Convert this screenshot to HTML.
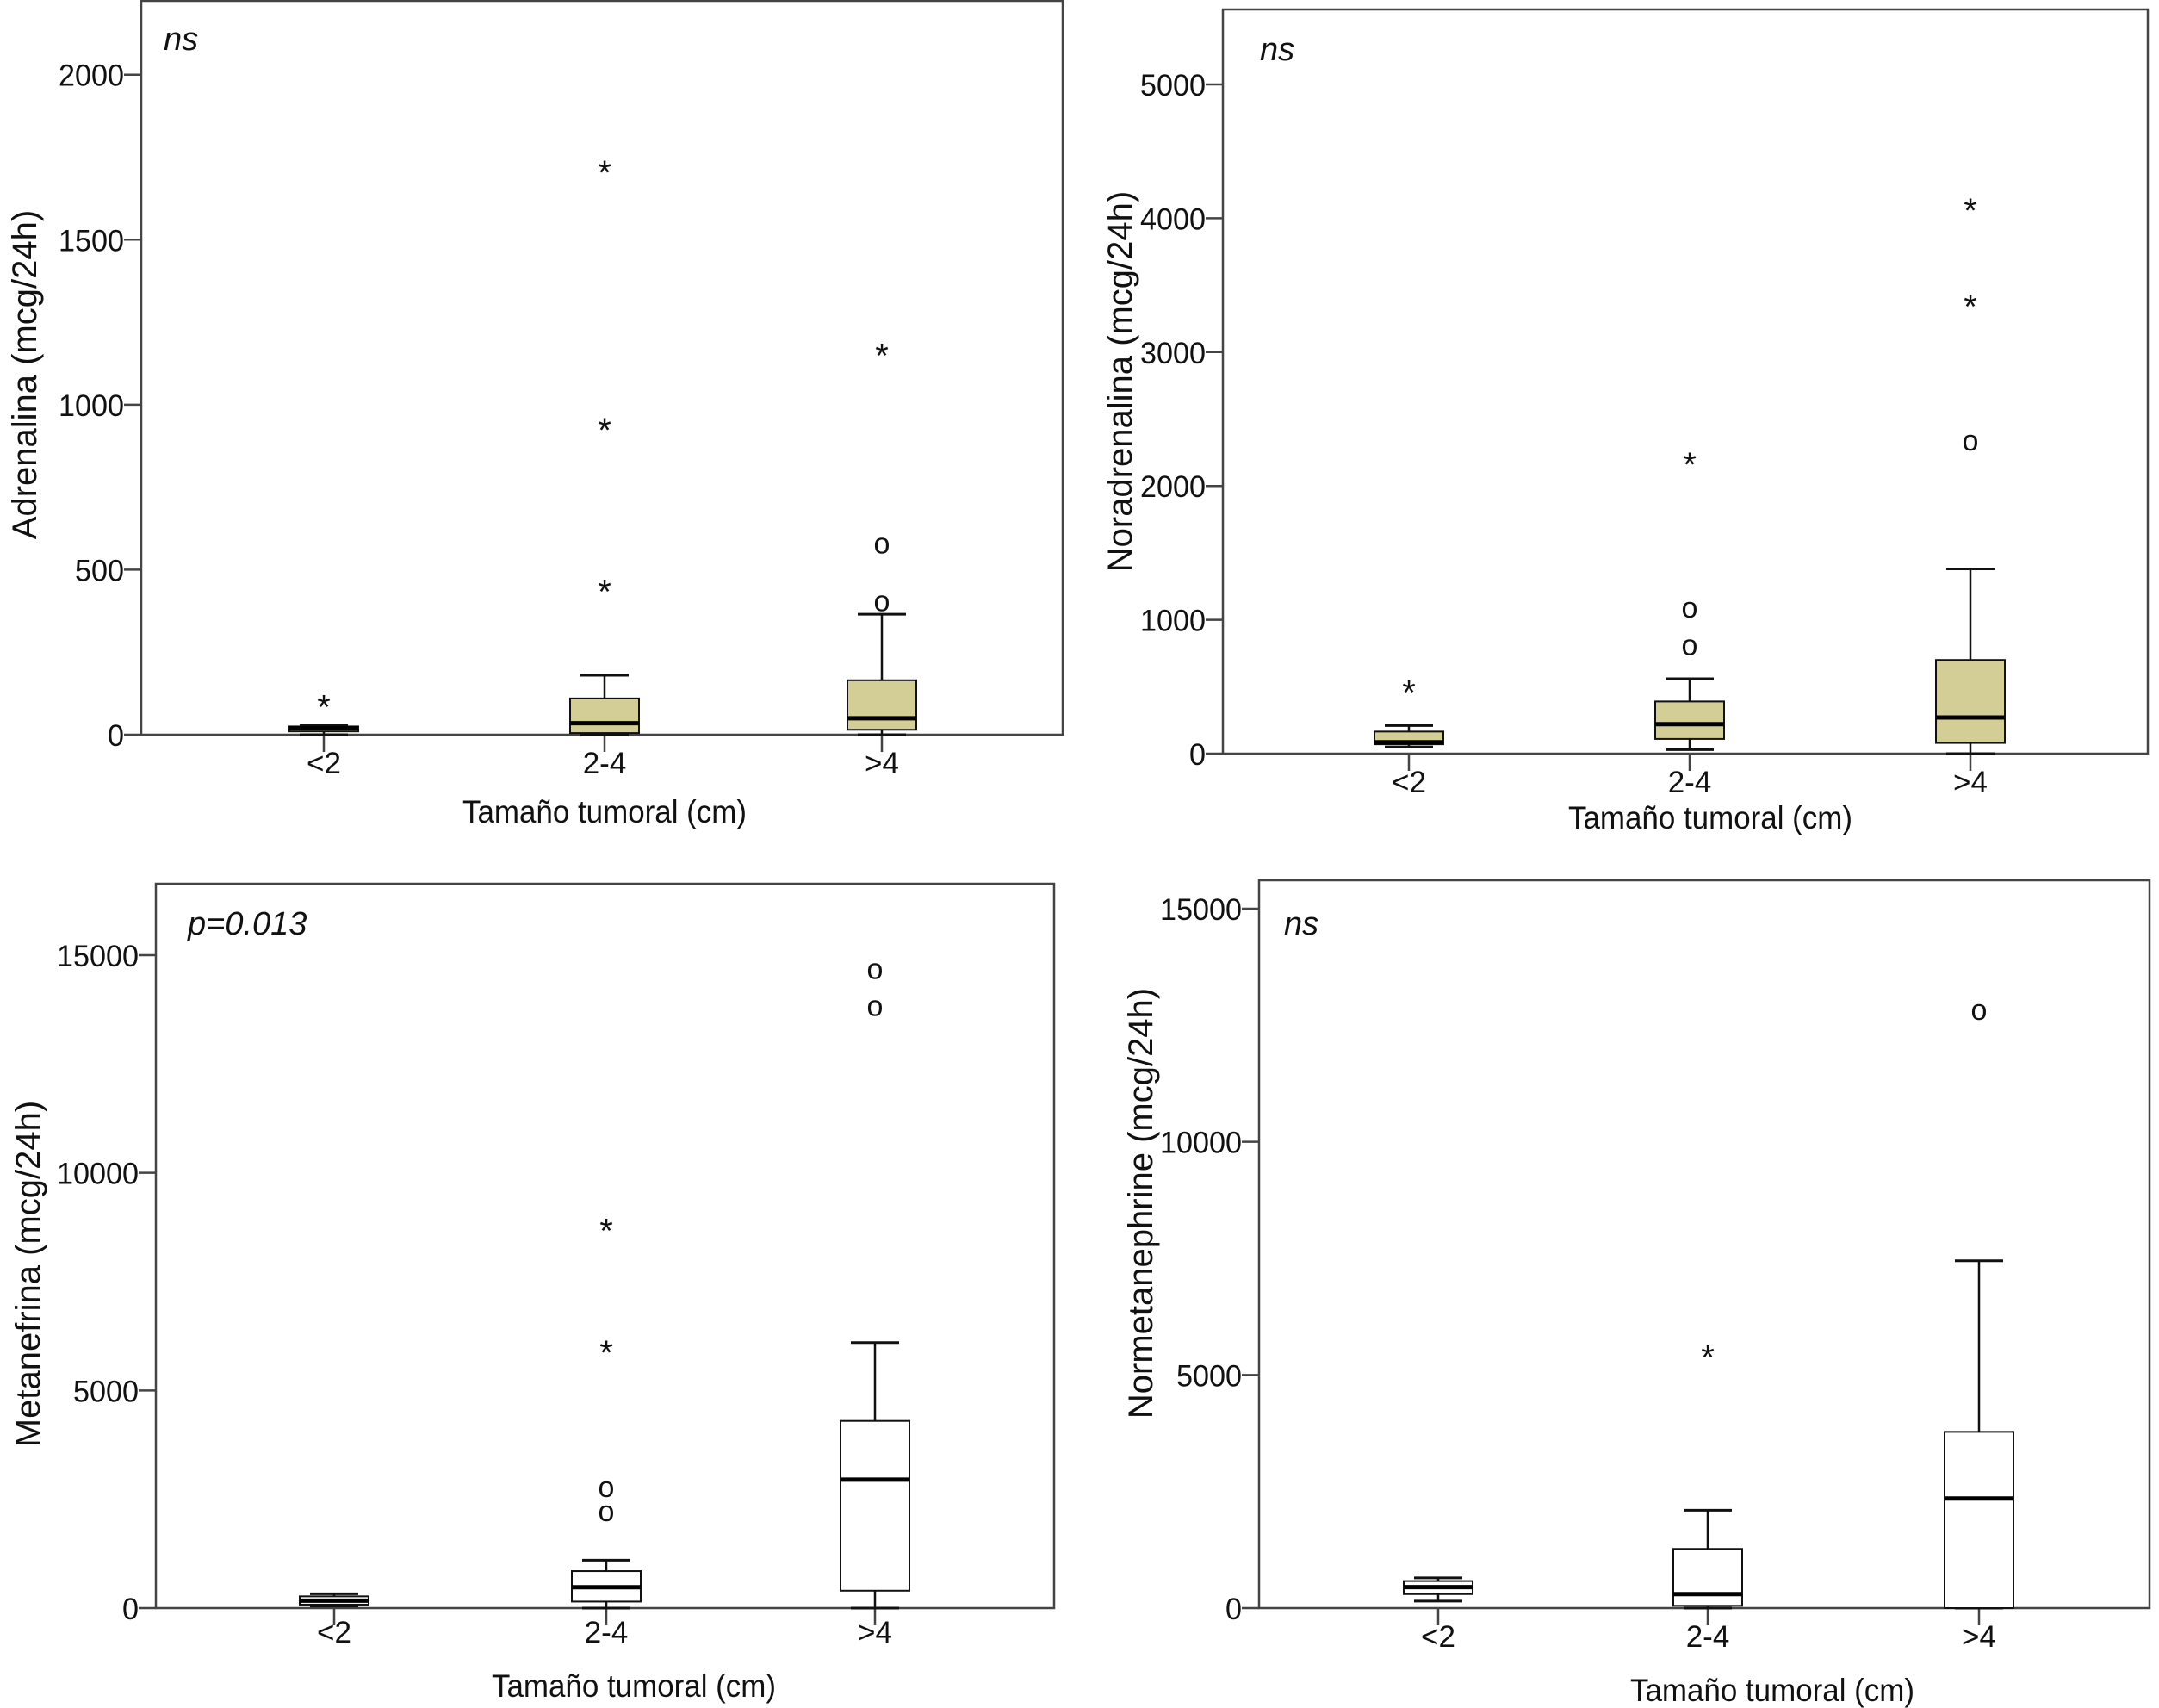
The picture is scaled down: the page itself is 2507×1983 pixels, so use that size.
<!DOCTYPE html>
<html><head><meta charset="utf-8"><style>
html,body{margin:0;padding:0;background:#fff;}
svg{display:block;font-family:"Liberation Sans",sans-serif;}
</style></head><body>
<svg id="fig" width="2507" height="1983" viewBox="0 0 2507 1983" xmlns="http://www.w3.org/2000/svg"></svg>
<script>
var categories = ["<2", "2-4", ">4"];
// panel 1 Adrenalina
var p1_wlo = [0, 0, 0];
var p1_q1 = [10, 5, 15];
var p1_med = [20, 35, 50];
var p1_q3 = [25, 110, 165];
var p1_whi = [30, 180, 365];
var p1_circ = [[], [], [400, 575]];
var p1_star = [[100], [450, 940, 1720], [1165]];
var p1_ticks = [0, 500, 1000, 1500, 2000];
// panel 2 Noradrenalina
var p2_wlo = [50, 30, 0];
var p2_q1 = [70, 110, 80];
var p2_med = [85, 220, 270];
var p2_q3 = [165, 390, 700];
var p2_whi = [210, 560, 1380];
var p2_circ = [[], [800, 1080], [2330]];
var p2_star = [[500], [2200], [3380, 4100]];
var p2_ticks = [0, 1000, 2000, 3000, 4000, 5000];
// panel 3 Metanefrina
var p3_wlo = [50, 0, 0];
var p3_q1 = [80, 150, 400];
var p3_med = [170, 480, 2950];
var p3_q3 = [270, 850, 4300];
var p3_whi = [330, 1100, 6100];
var p3_circ = [[], [2200, 2750], [13800, 14650]];
var p3_star = [[], [6000, 8800], []];
var p3_ticks = [0, 5000, 10000, 15000];
// panel 4 Normetanephrine
var p4_wlo = [150, 0, 0];
var p4_q1 = [300, 50, 0];
var p4_med = [450, 300, 2350];
var p4_q3 = [580, 1270, 3780];
var p4_whi = [650, 2100, 7450];
var p4_circ = [[], [], [12800]];
var p4_star = [[], [5500], []];
var p4_ticks = [0, 5000, 10000, 15000];

var NS = "http://www.w3.org/2000/svg";
var svg = document.getElementById("fig");
function mk(tag, attrs, parent, text) {
  var e = document.createElementNS(NS, tag);
  for (var k in attrs) e.setAttribute(k, attrs[k]);
  if (text !== undefined) e.textContent = text;
  (parent || svg).appendChild(e);
  return e;
}

var panels = [
  {id:"adrenalina", L:164, R:1234, T:1, B:853, y0:853, yTop:86.7, vTop:2000, cx:[376,702,1024],
   wlo:p1_wlo,q1:p1_q1,med:p1_med,q3:p1_q3,whi:p1_whi,circ:p1_circ,star:p1_star,ticks:p1_ticks,
   fill:"#d3cd96", ytitle:"Adrenalina (mcg/24h)", ytx:28, yty:435, xty:943, xtx:702, xl:886,
   note:"ns", nx:190, ny:58},
  {id:"noradrenalina", L:1420, R:2494, T:11, B:875, y0:875, yTop:98, vTop:5000, cx:[1636,1962,2288],
   wlo:p2_wlo,q1:p2_q1,med:p2_med,q3:p2_q3,whi:p2_whi,circ:p2_circ,star:p2_star,ticks:p2_ticks,
   fill:"#d3cd96", ytitle:"Noradrenalina (mcg/24h)", ytx:1300, yty:443, xty:950, xtx:1986, xl:908,
   note:"ns", nx:1463, ny:70},
  {id:"metanefrina", L:181, R:1224, T:1026, B:1867, y0:1867, yTop:1109, vTop:15000, cx:[388,704,1016],
   wlo:p3_wlo,q1:p3_q1,med:p3_med,q3:p3_q3,whi:p3_whi,circ:p3_circ,star:p3_star,ticks:p3_ticks,
   fill:"#ffffff", ytitle:"Metanefrina (mcg/24h)", ytx:32, yty:1479, xty:1958, xtx:736, xl:1895,
   note:"p=0.013", nx:218, ny:1085},
  {id:"normetanephrine", L:1462, R:2496, T:1022, B:1867, y0:1867, yTop:1055, vTop:15000, cx:[1670,1983,2298],
   wlo:p4_wlo,q1:p4_q1,med:p4_med,q3:p4_q3,whi:p4_whi,circ:p4_circ,star:p4_star,ticks:p4_ticks,
   fill:"#ffffff", ytitle:"Normetanephrine (mcg/24h)", ytx:1324, yty:1397, xty:1963, xtx:2058, xl:1900,
   note:"ns", nx:1491, ny:1085}
];

panels.forEach(function(p){
  var g = mk("g", {});
  
  
  function y(v){ return p.y0 - (v / p.vTop) * (p.y0 - p.yTop); }
  var fr = mk("rect", {x:p.L, y:p.T, width:p.R-p.L, height:p.B-p.T, fill:"none", stroke:"#444", "stroke-width":2.5}, g);
  
  
  p.ticks.forEach(function(t){
    var ty = y(t);
    var tl = mk("line", {x1:p.L-20, x2:p.L, y1:ty, y2:ty, stroke:"#444", "stroke-width":2.5}, g);
    
    
    var tt = mk("text", {x:p.L-20, y:ty+13, "text-anchor":"end", "font-size":35, fill:"#111", textLength: String(t).length*19, lengthAdjust:"spacingAndGlyphs"}, g, String(t));
    
    
  });
  var yt = mk("text", {x:0, y:0, "text-anchor":"middle", "font-size":40, fill:"#111",
    transform:"translate("+(p.ytx+14)+","+p.yty+") rotate(-90)"}, g, p.ytitle);
  
  
  var xt = mk("text", {x:p.xtx, y:p.xty+12, "text-anchor":"middle", "font-size":37, fill:"#111", textLength:330, lengthAdjust:"spacingAndGlyphs"}, g, "Tamaño tumoral (cm)");
  
  
  var nt = mk("text", {x:p.nx, y:p.ny, "font-size":38, "font-style":"italic", fill:"#111"}, g, p.note);
  
  
  var hw = 40, cw = 28;
  categories.forEach(function(c, i){
    var x = p.cx[i];
    var bg = mk("g", {}, g);
    
    
    var xk = mk("line", {x1:x, x2:x, y1:p.B, y2:p.B+20, stroke:"#444", "stroke-width":2.5}, bg);
    
    
    var xl = mk("text", {x:x, y:p.xl+12, "text-anchor":"middle", "font-size":35, fill:"#111"}, bg, c);
    
    
    var w1 = mk("line", {x1:x, x2:x, y1:y(p.whi[i]), y2:y(p.q3[i]), stroke:"#111", "stroke-width":2.5}, bg);
    
    
    var w2 = mk("line", {x1:x, x2:x, y1:y(p.q1[i]), y2:y(p.wlo[i]), stroke:"#111", "stroke-width":2.5}, bg);
    
    
    var c1 = mk("line", {x1:x-cw, x2:x+cw, y1:y(p.whi[i]), y2:y(p.whi[i]), stroke:"#111", "stroke-width":3}, bg);
    
    
    var c2 = mk("line", {x1:x-cw, x2:x+cw, y1:y(p.wlo[i]), y2:y(p.wlo[i]), stroke:"#111", "stroke-width":3}, bg);
    
    
    var bx = mk("rect", {x:x-hw, y:y(p.q3[i]), width:2*hw, height:Math.max(1, y(p.q1[i])-y(p.q3[i])), fill:p.fill, stroke:"#111", "stroke-width":2}, bg);
    
    
    var md = mk("line", {x1:x-hw, x2:x+hw, y1:y(p.med[i]), y2:y(p.med[i]), stroke:"#000", "stroke-width":5}, bg);
    
    
    p.circ[i].forEach(function(v){
      var o = mk("text", {x:x, y:y(v)+10, "text-anchor":"middle", "font-size":34, fill:"#111"}, bg, "o");
      
      
    });
    p.star[i].forEach(function(v){
      var s = mk("text", {x:x, y:y(v)+20, "text-anchor":"middle", "font-size":40, fill:"#111"}, bg, "*");
      
      
    });
  });
});
</script>
</body></html>
